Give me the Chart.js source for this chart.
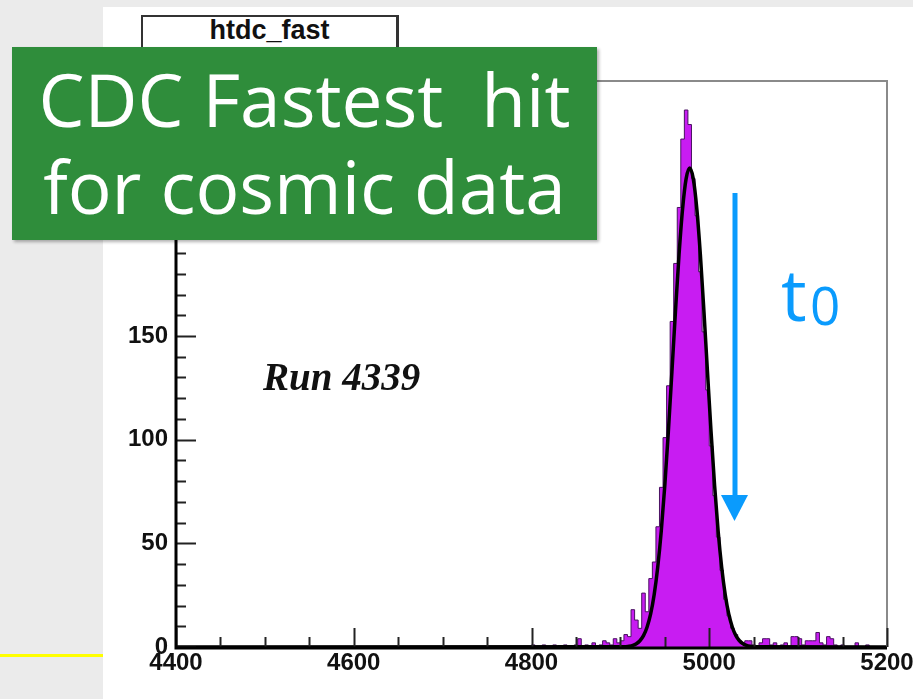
<!DOCTYPE html>
<html>
<head>
<meta charset="utf-8">
<script src="https://cdn.jsdelivr.net/npm/chart.js@4"></script>
<style>
  html, body { margin: 0; padding: 0; }
  body { width: 913px; height: 699px; background: #ebebeb; position: relative; overflow: hidden; }
  #panel { position: absolute; left: 103px; top: 7px; right: 0; bottom: 0; background: #fff; }
  #hline { position: absolute; left: 0; top: 654px; width: 103px; height: 3px; background: #ffff00; }
  #chart { position: absolute; left: 0; top: 0; z-index: 1; }
  #htitle {
    position: absolute; left: 141px; top: 15px; width: 253px; height: 40px; z-index: 2;
    border: 2px solid #333; border-right-width: 3px; background: #fff;
    font: bold 27px "Liberation Sans", Arial, sans-serif; line-height: 26px; text-align: center; color: #111;
  }
  #run {
    position: absolute; left: 263px; top: 357px; z-index: 2;
    font: italic bold 39px "Liberation Serif", "Times New Roman", serif; line-height: 39px; color: #111;
  }
  #label {
    position: absolute; left: 12px; top: 47px; width: 585px; height: 193px; z-index: 3;
    background: #2f8d3b; box-shadow: 2px 2px 3px rgba(0,0,0,0.3);
  }
  #label div {
    position: absolute; left: 0; width: 100%; text-align: center; white-space: pre;
    font: 73px "Open Sans", sans-serif; line-height: 73px; color: #fff;
  }
  .t0 { position: absolute; z-index: 3; font-family: "Open Sans", sans-serif; color: #0a9bfd; }
  #arrow { position: absolute; left: 0; top: 0; z-index: 3; }
</style>
</head>
<body>
<div id="panel"></div>
<div id="hline"></div>
<canvas id="chart" width="940" height="699"></canvas>
<div id="htitle">htdc_fast</div>
<div id="run">Run 4339</div>
<div id="label">
  <div style="top:15px">CDC Fastest  hit</div>
  <div style="top:102px">for cosmic data</div>
</div>
<div class="t0" style="left:781px; top:257px; font-size:72px; line-height:72px;">t</div>
<div class="t0" style="left:810px; top:278px; font-size:53px; line-height:53px;">0</div>
<svg id="arrow" width="913" height="699">
  <line x1="735" y1="193" x2="735" y2="500" stroke="#0a9bfd" stroke-width="5"/>
  <polygon points="721,495 748,495 734.5,521" fill="#0a9bfd"/>
</svg>

<script>
// htdc_fast: 200 bins of 4 ns from 4400 to 5200
const binLow = 4400;
const binWidth = 4;
const counts = [
  0,0,0,0,0,0,0,0,0,0, 0,0,0,0,0,0,0,0,0,0,
  0,0,0,0,0,0,0,0,0,0, 0,0,0,0,0,0,0,0,0,0,
  0,0,0,0,0,0,0,0,0,0, 0,0,0,0,0,0,0,0,0,0,
  0,0,0,0,0,0,0,0,0,0, 0,0,0,0,0,0,0,0,0,0,
  0,0,0,0,0,0,0,0,0,0, 0,0,0,0,0,0,0,0,0,0,
  0,1,0,0,1,0,0,1,0,0, 1,0,0,1,4,0,1,0,2,0,
  1,3,2,1,4,2,3,6,5,18, 13,9,26,17,33,41,58,77,101,126,
  157,185,212,245,259,252,226,208,181,152, 124,97,73,53,37,23,15,9,6,3,
  2,3,3,1,0,2,4,4,1,2, 0,1,2,0,5,5,4,1,3,3,
  3,7,2,1,5,4,1,0,1,0, 0,0,2,0,0,1,0,0,0,0
];

// gaussian fit curve
const fitX = [4400, 4902, 4906, 4910, 4914, 4918, 4922, 4926, 4930, 4934, 4938, 4942, 4946, 4950, 4954,
  4958, 4962, 4966, 4970, 4974, 4978, 4982, 4986, 4990, 4994, 4998, 5002, 5006, 5010, 5014,
  5018, 5022, 5026, 5030, 5034, 5038, 5042, 5046, 5050, 5054, 5200];
const fitY = [0, 0.07, 0.17, 0.38, 0.79, 1.58, 3.0, 5.46, 9.5, 15.8, 25.2, 38.4, 55.9, 78.0, 104.0,
  132.8, 162.0, 189.2, 211.4, 225.9, 231.0, 225.9, 211.4, 189.2, 162.0, 132.8, 104.0, 78.0, 55.9, 38.4,
  25.2, 15.8, 9.5, 5.46, 3.0, 1.58, 0.79, 0.38, 0.17, 0.07, 0];

const xMin = 4400, xMax = 5200, xMajor = 200, xMinor = 50;
const yMin = 0, yMax = 273, yMajor = 50, yMinor = 10;

const histPoints = counts.map((c, k) => ({ x: binLow + k * binWidth, y: c }));
histPoints.push({ x: binLow + counts.length * binWidth, y: 0 });
const fitPoints = fitX.map((x, i) => ({ x: x, y: fitY[i] }));

// ROOT style frame: ticks inside the frame, grey top/right border
const rootFrame = {
  id: 'rootFrame',
  afterDatasetsDraw(chart) {
    const ctx = chart.ctx, a = chart.chartArea;
    const xs = chart.scales.x, ys = chart.scales.y;
    ctx.save();
    ctx.strokeStyle = '#8a8a8a';
    ctx.lineWidth = 2;
    ctx.beginPath();
    ctx.moveTo(a.left, a.top); ctx.lineTo(a.right, a.top); ctx.lineTo(a.right, a.bottom);
    ctx.stroke();

    ctx.strokeStyle = '#222';
    ctx.lineWidth = 2;
    ctx.beginPath();
    for (let v = xMin; v <= xMax; v += xMinor) {
      const px = Math.round(xs.getPixelForValue(v)) + 0.5;
      const len = (v - xMin) % xMajor === 0 ? 19 : 10;
      ctx.moveTo(px, a.bottom); ctx.lineTo(px, a.bottom - len);
    }
    for (let v = yMin; v <= yMax; v += yMinor) {
      const py = Math.round(ys.getPixelForValue(v)) + 0.5;
      const len = v % yMajor === 0 ? 20 : 10;
      ctx.moveTo(a.left, py); ctx.lineTo(a.left + len, py);
    }
    ctx.stroke();

    ctx.strokeStyle = '#000';
    ctx.lineWidth = 3;
    ctx.beginPath();
    ctx.moveTo(a.left, a.top); ctx.lineTo(a.left, a.bottom + 1); ctx.lineTo(a.right, a.bottom + 1);
    ctx.stroke();
    ctx.restore();
  }
};

const tickFont = { family: 'Liberation Sans', size: 24, weight: 'bold' };
const plainNumber = v => String(v);

new Chart(document.getElementById('chart').getContext('2d'), {
  type: 'line',
  data: {
    datasets: [
      {
        data: fitPoints,
        borderColor: '#000',
        borderWidth: 3.5,
        cubicInterpolationMode: 'monotone',
        pointRadius: 0,
        fill: false,
        order: 0
      },
      {
        data: histPoints,
        stepped: 'after',
        borderColor: '#4a1262',
        borderWidth: 1,
        backgroundColor: '#c81cf2',
        fill: 'origin',
        pointRadius: 0,
        order: 1
      }
    ]
  },
  options: {
    responsive: false,
    animation: false,
    devicePixelRatio: 1,
    layout: { padding: { top: 81, right: 53, bottom: 0, left: 0 } },
    plugins: { legend: { display: false }, tooltip: { enabled: false } },
    scales: {
      x: {
        type: 'linear',
        min: xMin,
        max: xMax,
        grid: { display: false, drawTicks: false },
        border: { display: false },
        ticks: { stepSize: xMajor, padding: 2, color: '#111', font: tickFont, maxRotation: 0, autoSkip: false, callback: plainNumber },
        afterFit(scale) { scale.height = 52; }
      },
      y: {
        min: yMin,
        max: yMax,
        grid: { display: false, drawTicks: false },
        border: { display: false },
        ticks: { stepSize: yMajor, includeBounds: false, padding: 8, color: '#111', font: tickFont, callback: plainNumber },
        afterFit(scale) { scale.width = 176; }
      }
    }
  },
  plugins: [rootFrame]
});
</script>
</body>
</html>
